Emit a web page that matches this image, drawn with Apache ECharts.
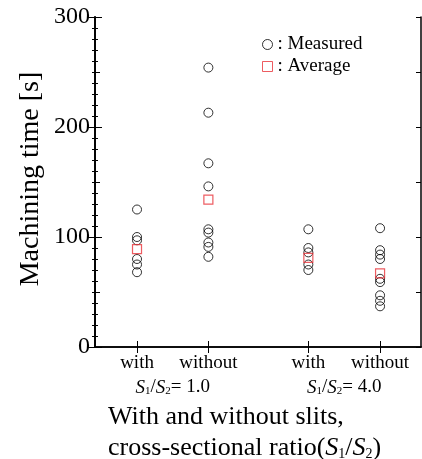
<!DOCTYPE html>
<html>
<head>
<meta charset="utf-8">
<script src="https://cdn.jsdelivr.net/npm/echarts@6/dist/echarts.min.js"></script>
<style>html,body{margin:0;padding:0;background:#fff}#c{width:422px;height:459px}</style>
</head>
<body>
<div id="c"></div>
<script>
// ---- data ----
var groupLabels = ['with', 'without', 'with', 'without'];
var groupPositions = [5.8, 15.65, 29.45, 39.35];
var ratioLabels = ['1.0', '4.0'];
var measured1 = [125, 100, 97, 80, 75, 68];
var measured2 = [254, 213, 167, 146, 107, 104, 95, 91, 82];
var measured3 = [107, 90, 86, 75, 70];
var measured4 = [108, 88, 84, 80, 62, 59, 47, 42, 37];
var averages = [89, 134, 81, 67];
var yTicks = [0, 100, 200, 300];

var FONT = '"Liberation Serif", "Times New Roman", serif';
var RED = '#e8333a';
var groups = [measured1, measured2, measured3, measured4];
var measuredData = [];
groups.forEach(function (g, i) {
  g.forEach(function (v) { measuredData.push([groupPositions[i], v]); });
});
var avgData = averages.map(function (v, i) { return [groupPositions[i], v]; });
var ratioPositions = [(groupPositions[0] + groupPositions[1]) / 2, (groupPositions[2] + groupPositions[3]) / 2];

var chart = echarts.init(document.getElementById('c'), null, {renderer: 'canvas'});
var lineStyle = {color: '#000', width: 1.5};
var richSub = {
  i: {fontFamily: FONT, fontStyle: 'italic', fontSize: 19, color: '#000'},
  s: {fontFamily: FONT, fontSize: 11, color: '#000', verticalAlign: 'bottom', padding: [8, 0, 0, 0]},
  n: {fontFamily: FONT, fontSize: 19, color: '#000'}
};
var richBig = {
  t: {fontFamily: FONT, fontSize: 26, color: '#000'},
  i: {fontFamily: FONT, fontStyle: 'italic', fontSize: 26, color: '#000'},
  s: {fontFamily: FONT, fontSize: 14, color: '#000', verticalAlign: 'bottom', padding: [10, 0, 0, 0]}
};

function yAx(pos, interval, tickLen, minor, labels) {
  return {
    type: 'value', position: pos, min: 0, max: 300, interval: interval,
    axisLine: {show: true, lineStyle: lineStyle},
    axisTick: {show: true, inside: true, length: tickLen, lineStyle: {color: '#000', width: 1}},
    minorTick: {show: minor, splitNumber: 10, length: 3, lineStyle: {color: '#000', width: 1}},
    splitLine: {show: false}, minorSplitLine: {show: false},
    axisLabel: labels ? {show: true, fontFamily: FONT, fontSize: 24, color: '#000', margin: 5,
      customValues: yTicks} : {show: false}
  };
}

var option = {
  animation: false,
  backgroundColor: '#fff',
  grid: {left: 95, right: 1, top: 17, bottom: 112},
  xAxis: [
    {
      type: 'value', position: 'bottom', min: 0, max: 45,
      axisLine: {show: true, lineStyle: lineStyle},
      axisTick: {show: true, inside: true, length: 6, customValues: groupPositions, lineStyle: {color: '#000'}},
      splitLine: {show: false},
      axisLabel: {
        show: true, customValues: groupPositions, fontFamily: FONT, fontSize: 19, color: '#000', margin: 7,
        formatter: function (v) { var i = groupPositions.indexOf(v); return i >= 0 ? groupLabels[i] : ''; }
      }
    },
    {
      type: 'value', position: 'top', min: 0, max: 45,
      axisLine: {show: true, lineStyle: lineStyle},
      axisTick: {show: true, inside: true, length: 6, customValues: groupPositions, lineStyle: {color: '#000'}},
      splitLine: {show: false}, axisLabel: {show: false}
    },
    {
      type: 'value', position: 'bottom', offset: 27, min: 0, max: 45,
      axisLine: {show: false}, axisTick: {show: false}, splitLine: {show: false},
      axisLabel: {
        show: true, customValues: ratioPositions, margin: 4, rich: richSub,
        formatter: function (v) {
          var i = ratioPositions.indexOf(v);
          return i >= 0 ? '{i|S}{s|1}{n|/}{i|S}{s|2}{n|= ' + ratioLabels[i] + '}' : '';
        }
      }
    }
  ],
  yAxis: [
    yAx('left', 100, 7, true, true),
    yAx('left', 50, 5, false, false),
    yAx('right', 100, 7, true, false),
    yAx('right', 50, 5, false, false)
  ],
  legend: {
    orient: 'vertical', left: 257, top: 30, itemWidth: 10, itemHeight: 10, itemGap: 3,
    textStyle: {fontFamily: FONT, fontSize: 19, color: '#000'},
    formatter: function (n) { return ': ' + n; },
    data: [
      {name: 'Measured', icon: 'circle', itemStyle: {color: 'transparent', borderColor: '#000', borderWidth: 1}},
      {name: 'Average', icon: 'rect', itemStyle: {color: 'transparent', borderColor: RED, borderWidth: 1}}
    ]
  },
  graphic: [
    {type: 'text', x: 31, y: 179, rotation: Math.PI / 2,
      style: {text: 'Machining time [s]', font: '28px ' + FONT, fill: '#000', align: 'center', verticalAlign: 'middle'}},
    {type: 'text', x: 108, y: 404,
      style: {text: '{t|With and without slits,}', rich: richBig, align: 'left', verticalAlign: 'top'}},
    {type: 'text', x: 108, y: 435,
      style: {text: '{t|cross-sectional ratio(}{i|S}{s|1}{t|/}{i|S}{s|2}{t|)}', rich: richBig, align: 'left', verticalAlign: 'top'}}
  ],
  series: [
    {
      name: 'Measured', type: 'scatter', xAxisIndex: 0, yAxisIndex: 0, symbol: 'circle', symbolSize: 9,
      itemStyle: {color: 'transparent', borderColor: '#000', borderWidth: 1},
      data: measuredData, z: 2
    },
    {
      name: 'Average', type: 'scatter', xAxisIndex: 0, yAxisIndex: 0, symbol: 'rect', symbolSize: 9,
      itemStyle: {color: 'transparent', borderColor: RED, borderWidth: 1.2},
      data: avgData, z: 3
    }
  ]
};
chart.setOption(option);
</script>
</body>
</html>
